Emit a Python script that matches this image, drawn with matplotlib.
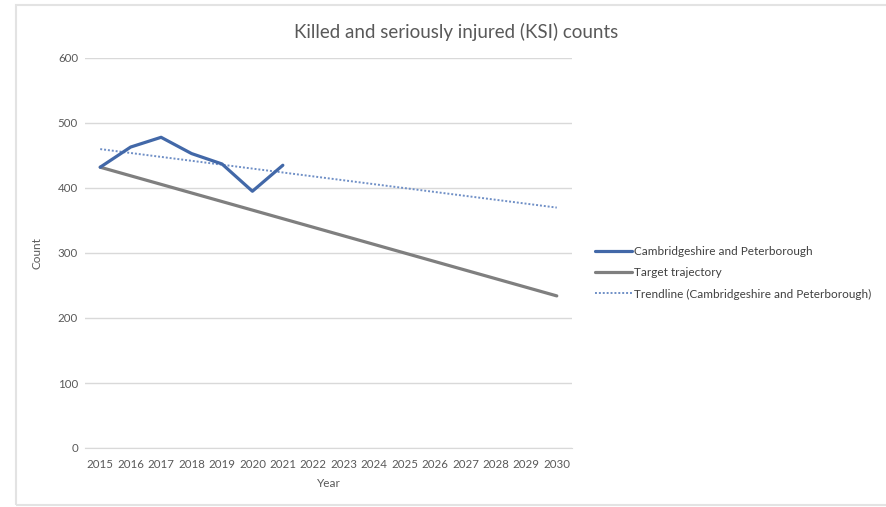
import numpy as np
import matplotlib
matplotlib.use("Agg")
import matplotlib.pyplot as plt
from matplotlib.patches import Rectangle

years = list(range(2015, 2031))
actual_years = [2015, 2016, 2017, 2018, 2019, 2020, 2021]
actual_values = [432, 463, 478, 453, 437, 395, 435]
target_years = [2015, 2030]
target_values = [432, 234]
yticks = [0, 100, 200, 300, 400, 500, 600]

title = "Killed and seriously injured (KSI) counts"
labels = ["Cambridgeshire and Peterborough", "Target trajectory",
          "Trendline (Cambridgeshire and Peterborough)"]

plt.rcParams['font.family'] = ['Lato', 'DejaVu Sans']

W, H = 886, 507
fig = plt.figure(figsize=(W / 100, H / 100), dpi=100)
fig.patch.set_facecolor('white')

# chart border
fig.patches.append(Rectangle((16 / W, 1 - 505 / H), (W + 5 - 16) / W, (505 - 5) / H,
                             transform=fig.transFigure, fill=False,
                             edgecolor='#e3e3e3', linewidth=1.5))

left, right, top, bottom = 85, 572, 58, 448
ax = fig.add_axes([left / W, 1 - bottom / H, (right - left) / W, (bottom - top) / H])

blue = '#4268a8'
grey = '#7f7f7f'
trend = '#6f8fc6'

ax.plot(actual_years, actual_values, color=blue, lw=2.3, label=labels[0],
        solid_capstyle='round', zorder=3)
ax.plot(target_years, target_values, color=grey, lw=2.3, label=labels[1],
        solid_capstyle='round', zorder=2)
coef = np.polyfit(actual_years, actual_values, 1)
tx = np.array([years[0], years[-1]])
ax.plot(tx, np.polyval(coef, tx), color=trend, lw=1.4, ls=(0, (1, 1)),
        label=labels[2], zorder=2)

ax.set_xlim(2014.5, 2030.5)
ax.set_ylim(0, 600)
ax.set_xticks(years)
ax.set_xticklabels([str(y) for y in years])
ax.set_yticks(yticks)
ax.grid(axis='y', color='#d9d9d9', lw=1)
ax.set_axisbelow(True)
for s in ax.spines.values():
    s.set_visible(False)
ax.spines['bottom'].set_visible(True)
ax.spines['bottom'].set_color('#d9d9d9')
ax.tick_params(length=0, labelsize=8.3, colors='#595959', pad=8)
ax.tick_params(axis='y', pad=5)
ax.set_xlabel("Year", fontsize=8.5, color='#595959', labelpad=6)
ax.set_ylabel("Count", fontsize=8.5, color='#595959', labelpad=11)

fig.text(456 / W, 1 - 32 / H, title, ha='center', va='center', fontsize=13.5,
         color='#595959')

leg = ax.legend(loc='center left', bbox_to_anchor=(595 / W, 1 - 273 / H),
                bbox_transform=fig.transFigure, frameon=False, fontsize=8.5,
                handlelength=3.1, handletextpad=0.2, labelspacing=0.85,
                borderaxespad=0, borderpad=0)
for t in leg.get_texts():
    t.set_color('#404040')

fig.savefig("out.png", dpi=100, facecolor='white')
